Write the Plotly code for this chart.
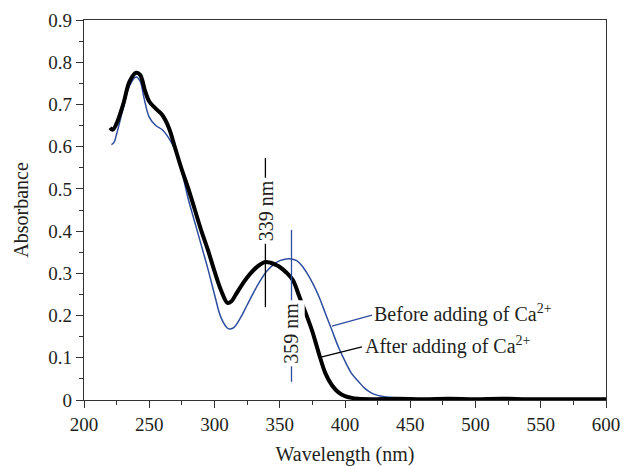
import plotly.graph_objects as go

# After adding of Ca2+ (black)
after_wl = [220, 222, 225, 230, 235, 240, 243, 247, 250, 255, 260, 265, 270, 275, 280, 285,
            290, 295, 300, 305, 310, 313, 316, 320, 325, 330, 335, 339, 343, 347, 350, 355,
            360, 365, 370, 375, 380, 385, 390, 395, 400, 405, 410, 420, 440, 460, 480, 500,
            520, 540, 560, 580, 600]
after_abs = [0.645, 0.640, 0.655, 0.700, 0.755, 0.775, 0.770, 0.730, 0.707, 0.690, 0.675, 0.645,
             0.595, 0.545, 0.500, 0.450, 0.400, 0.355, 0.305, 0.260, 0.230, 0.234, 0.248, 0.268,
             0.290, 0.308, 0.321, 0.327, 0.325, 0.320, 0.315, 0.302, 0.284, 0.245, 0.205, 0.162,
             0.110, 0.063, 0.035, 0.018, 0.009, 0.005, 0.003, 0.002, 0.003, 0.002, 0.003, 0.002,
             0.003, 0.002, 0.002, 0.002, 0.002]

# Before adding of Ca2+ (blue)
before_wl = [221, 223, 225, 230, 235, 240, 243, 246, 250, 255, 260, 265, 270, 275, 280, 285,
             290, 295, 300, 305, 310, 312, 315, 320, 325, 330, 335, 340, 345, 350, 355, 359,
             363, 367, 371, 375, 380, 385, 390, 395, 400, 405, 410, 415, 420, 425, 430, 440,
             450, 500, 550, 600]
before_abs = [0.605, 0.610, 0.630, 0.690, 0.745, 0.765, 0.755, 0.715, 0.670, 0.650, 0.640, 0.620,
              0.590, 0.540, 0.475, 0.420, 0.365, 0.310, 0.250, 0.195, 0.170, 0.168, 0.172, 0.195,
              0.225, 0.255, 0.282, 0.305, 0.320, 0.330, 0.334, 0.334, 0.330, 0.318, 0.300, 0.278,
              0.245, 0.205, 0.165, 0.125, 0.092, 0.063, 0.045, 0.028, 0.017, 0.011, 0.008, 0.005,
              0.003, 0.002, 0.002, 0.002]

x_ticks = [200, 250, 300, 350, 400, 450, 500, 550, 600]
y_ticks = [0, 0.1, 0.2, 0.3, 0.4, 0.5, 0.6, 0.7, 0.8, 0.9]

BLUE = "#2e4da0"
TXT = "#231f20"
FONT = "Liberation Serif"
SUP = '<sup><span style="font-size:14px">2+</span></sup>'

fig = go.Figure()
fig.add_trace(go.Scatter(x=before_wl, y=before_abs, mode="lines",
                         line=dict(color=BLUE, width=1.5, shape="spline"), showlegend=False))
fig.add_trace(go.Scatter(x=after_wl, y=after_abs, mode="lines",
                         line=dict(color="black", width=4, shape="spline"), showlegend=False))

# marker lines for peaks
fig.add_shape(type="line", x0=339, x1=339, y0=0.22, y1=0.573, line=dict(color="black", width=1.3))
fig.add_shape(type="line", x0=359, x1=359, y0=0.043, y1=0.403, line=dict(color=BLUE, width=1.3))
# leader lines
fig.add_shape(type="line", x0=390, y0=0.175, x1=420.7, y1=0.201, line=dict(color=BLUE, width=1.3))
fig.add_shape(type="line", x0=382.4, y0=0.102, x1=413, y1=0.126, line=dict(color="black", width=1.3))

fig.add_annotation(x=339, y=0.448, text="339 nm", textangle=-90, showarrow=False,
                   bgcolor="white", borderpad=2, font=dict(family=FONT, size=20, color=TXT))
fig.add_annotation(x=359, y=0.158, text="359 nm", textangle=-90, showarrow=False,
                   bgcolor="white", borderpad=2, font=dict(family=FONT, size=20, color=TXT))
fig.add_annotation(x=421, y=0.206, text="Before adding of Ca" + SUP, showarrow=False,
                   xanchor="left", yanchor="middle", font=dict(family=FONT, size=20, color=TXT))
fig.add_annotation(x=413.5, y=0.13, text="After adding of Ca" + SUP, showarrow=False,
                   xanchor="left", yanchor="middle", font=dict(family=FONT, size=20, color=TXT))

axis_common = dict(showline=True, linecolor="#333333", linewidth=1.3, mirror=True,
                   showgrid=False, zeroline=False, ticks="outside", ticklen=7,
                   tickcolor="#333333", tickwidth=1.2, automargin=False,
                   tickfont=dict(family=FONT, size=19, color=TXT))

fig.update_xaxes(range=[200, 600], tickvals=x_ticks,
                 minor=dict(dtick=25, ticks="outside", ticklen=4, tickcolor="#333333"),
                 title=dict(text="Wavelength (nm)", font=dict(family=FONT, size=20, color=TXT),
                            standoff=13),
                 **axis_common)
fig.update_yaxes(range=[0, 0.9], tickvals=y_ticks, ticktext=[f"{v:g}" for v in y_ticks],
                 minor=dict(dtick=0.05, ticks="outside", ticklen=4, tickcolor="#333333"),
                 title=dict(text="Absorbance", font=dict(family=FONT, size=20, color=TXT),
                            standoff=14),
                 **axis_common)

fig.update_layout(width=624, height=466, margin=dict(l=84, r=18, t=20, b=66),
                  plot_bgcolor="white", paper_bgcolor="white")

fig.write_html("out.html")
